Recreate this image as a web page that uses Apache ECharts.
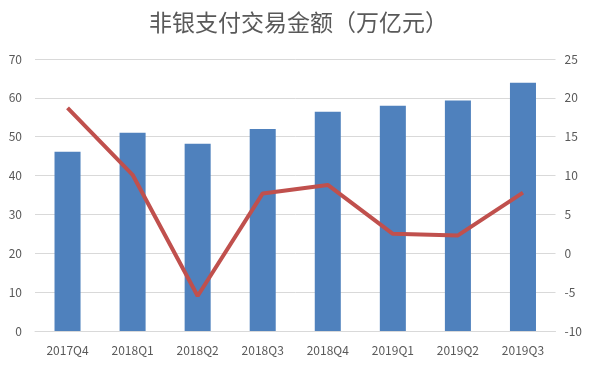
<!DOCTYPE html>
<html>
<head>
<meta charset="utf-8">
<script src="https://cdn.jsdelivr.net/npm/echarts@6/dist/echarts.min.js"></script>
<style>html,body{margin:0;padding:0;background:#fff;}#c{width:597px;height:365px;}</style>
</head>
<body>
<div id="c"></div>
<script>
const categories = ['2017Q4','2018Q1','2018Q2','2018Q3','2018Q4','2019Q1','2019Q2','2019Q3'];
const amountValues = [46.1, 51.0, 48.2, 52.0, 56.4, 58.0, 59.3, 63.9];
const growthValues = [18.7, 10.1, -5.5, 7.7, 8.8, 2.5, 2.3, 7.8];
const titleText = '非银支付交易金额（万亿元）';

const chart = echarts.init(document.getElementById('c'), null, {renderer: 'canvas'});
const font = '"Noto Sans CJK SC", "Noto Sans", sans-serif';
chart.setOption({
  animation: false,
  backgroundColor: '#ffffff',
  title: {
    text: titleText, left: 'center', top: 6,
    textStyle: {fontFamily: font, fontSize: 23, fontWeight: 'normal', color: '#595959'}
  },
  grid: {left: 35, right: 41.5, top: 59, bottom: 34},
  xAxis: {
    type: 'category', data: categories,
    axisLine: {show: true, lineStyle: {color: '#D9D9D9'}},
    axisTick: {show: false},
    axisLabel: {color: '#595959', fontSize: 12, fontFamily: font, margin: 13}
  },
  yAxis: [
    {type: 'value', min: 0, max: 70, interval: 10,
     axisLine: {show: false}, axisTick: {show: false},
     axisLabel: {color: '#595959', fontSize: 12, fontFamily: font, margin: 13},
     splitLine: {lineStyle: {color: '#D9D9D9'}}},
    {type: 'value', min: -10, max: 25, interval: 5,
     axisLine: {show: false}, axisTick: {show: false},
     axisLabel: {color: '#595959', fontSize: 12, fontFamily: font, margin: 9},
     splitLine: {show: false}}
  ],
  series: [
    {type: 'bar', data: amountValues, barWidth: '40%', yAxisIndex: 0,
     itemStyle: {color: '#4F81BD'}},
    {type: 'line', data: growthValues, yAxisIndex: 1, symbol: 'none',
     lineStyle: {color: '#C0504D', width: 4}, itemStyle: {color: '#C0504D'}}
  ]
});
</script>
</body>
</html>
